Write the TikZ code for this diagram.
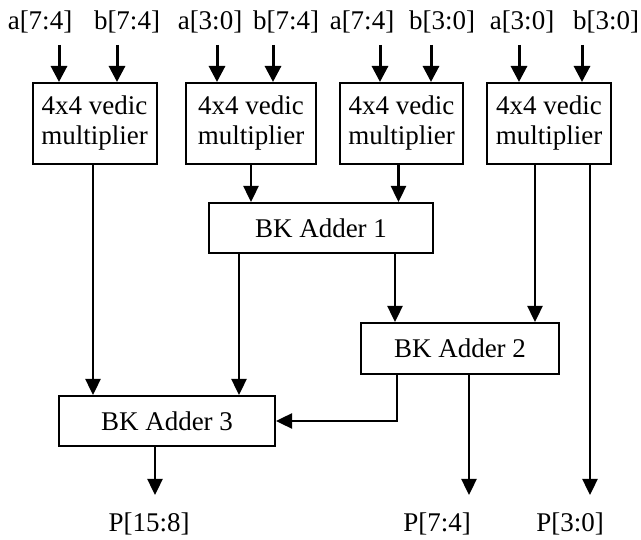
\documentclass[tikz,border=0pt]{standalone}
\usepackage{fontspec}
\setmainfont{Liberation Serif}
\usetikzlibrary{arrows.meta,calc}
\begin{document}
\begin{tikzpicture}[x=1pt,y=-1pt,
  font=\fontsize{27pt}{30pt}\selectfont,
  box/.style={draw,line width=2pt,inner sep=0pt,align=center},
  mult/.style={box,minimum width=124pt,minimum height=81pt},
  adder/.style={box,minimum height=50pt},
  inarrow/.style={line width=3pt,-{Triangle[width=16pt,length=16pt]}},
  conn/.style={line width=2.4pt,-{Triangle[width=15pt,length=16pt]}},
  lbl/.style={anchor=base,inner sep=0pt}]
\useasboundingbox (0,0) rectangle (641,540);
% multipliers
\node[mult] (m1) at (94.5,123.5) {4x4 vedic\\multiplier};
\node[mult,minimum width=130pt] (m2) at (251,123.5) {4x4 vedic\\multiplier};
\node[mult,minimum width=123pt] (m3) at (401.5,123.5) {4x4 vedic\\multiplier};
\node[mult] (m4) at (549,123.5) {4x4 vedic\\multiplier};
% adders
\node[adder,minimum width=224pt] (bk1) at (321,228) {BK Adder 1};
\node[adder,minimum width=198pt,minimum height=51pt] (bk2) at (460,348.5) {BK Adder 2};
\node[adder,minimum width=216pt] (bk3) at (167,421) {BK Adder 3};
% input labels
\node[lbl] (i1) at (40,30) {a[7:4]};
\node[lbl] (i2) at (127,30) {b[7:4]};
\node[lbl] (i3) at (210,30) {a[3:0]};
\node[lbl] (i4) at (286,30) {b[7:4]};
\node[lbl] (i5) at (362,30) {a[7:4]};
\node[lbl] (i6) at (442,30) {b[3:0]};
\node[lbl] (i7) at (522,30) {a[3:0]};
\node[lbl] (i8) at (606,30) {b[3:0]};
% input arrows
\foreach \b/\x in {m1/59,m1/117,m2/217,m2/273,m3/380,m3/431,m4/519,m4/582}{
  \coordinate (s) at (\x,45);
  \draw[inarrow] (s) -- (s |- \b.north);
}
% output labels
\node[lbl] (p1) at (149,532) {P[15:8]};
\node[lbl] (p2) at (437,532) {P[7:4]};
\node[lbl] (p3) at (570,532) {P[3:0]};
\coordinate (e1) at (155,495);
\coordinate (e2) at (469,495);
\coordinate (e3) at (590,495);
% connectors
\coordinate (a1) at ([xshift=-1.5pt]m1.south);
\draw[conn] (a1) -- (a1 |- bk3.north);
\draw[conn] (m2.south) -- (m2.south |- bk1.north);
\coordinate (a3) at ([xshift=-3pt]m3.south);
\draw[conn] (a3) -- (a3 |- bk1.north);
\coordinate (a4) at ([xshift=-82pt]bk1.south);
\draw[conn] (a4) -- (a4 |- bk3.north);
\coordinate (a5) at ([xshift=74pt]bk1.south);
\draw[conn] (a5) -- (a5 |- bk2.north);
\coordinate (a6) at ([xshift=-14pt]m4.south);
\draw[conn] (a6) -- (a6 |- bk2.north);
\coordinate (a7) at ([xshift=41pt]m4.south);
\draw[conn] (a7) -- (a7 |- e3);
\coordinate (a8) at ([xshift=-63pt]bk2.south);
\draw[conn] (a8) |- (bk3.east);
\coordinate (a9) at ([xshift=9pt]bk2.south);
\draw[conn] (a9) -- (a9 |- e2);
\coordinate (a10) at ([xshift=-12pt]bk3.south);
\draw[conn] (a10) -- (a10 |- e1);
\end{tikzpicture}
\end{document}
